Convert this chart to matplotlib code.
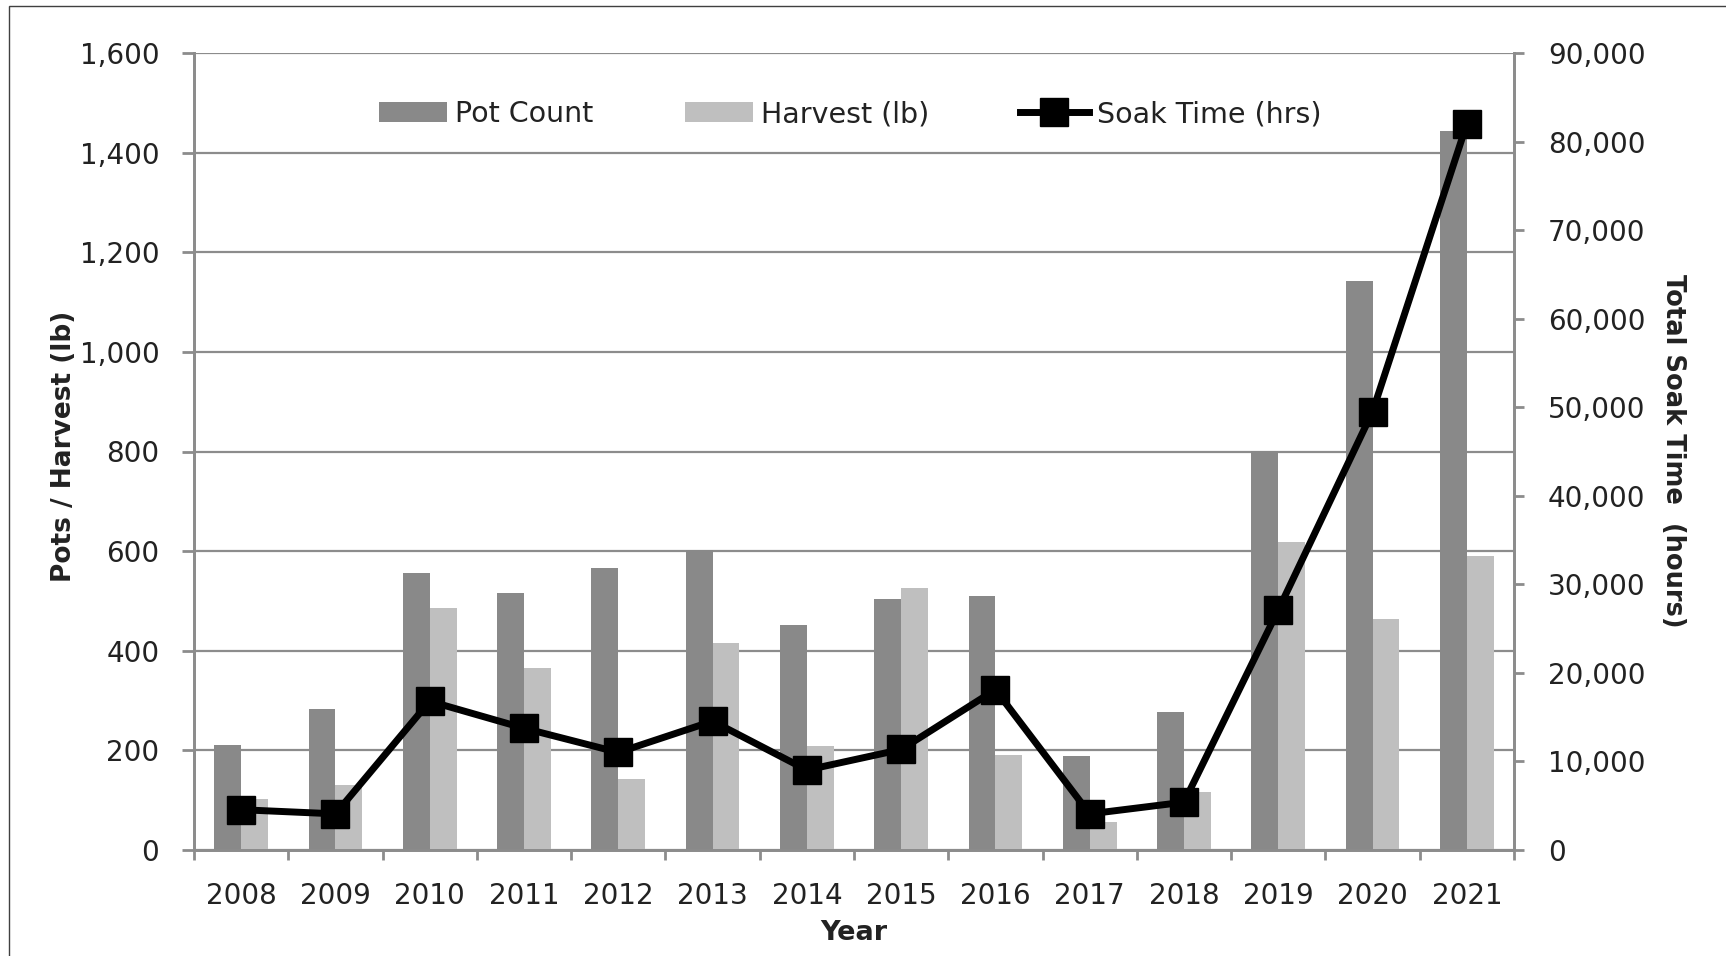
import numpy as np
import matplotlib
matplotlib.use('Agg')
import matplotlib.pyplot as plt
from matplotlib.ticker import FuncFormatter, MultipleLocator
from matplotlib.patches import Rectangle

years = ['2008', '2009', '2010', '2011', '2012', '2013', '2014',
         '2015', '2016', '2017', '2018', '2019', '2020', '2021']
pot_count = [210, 283, 557, 515, 566, 603, 451, 503, 510, 188, 277, 802, 1142, 1443]
harvest = [102, 130, 485, 365, 143, 416, 209, 526, 191, 56, 117, 619, 463, 590]
soak_time = [4550, 4080, 16800, 13750, 11020, 14550, 9030, 11350, 18100, 4080,
             5400, 27100, 49500, 82000]

GRID = '#8c8c8c'
TEXT = '#222222'


def comma(v, pos):
    return '{:,.0f}'.format(v)


def main():
    plt.rcParams['font.family'] = ['DejaVu Sans']

    fig = plt.figure(figsize=(17.26, 9.56), dpi=100)
    ax = fig.add_axes([194 / 1726, 106 / 956, 1320 / 1726, 797 / 956])
    ax2 = ax.twinx()

    x = np.arange(len(years))
    w = 0.285
    b1 = ax.bar(x - w / 2, pot_count, w, color='#898989', label='Pot Count')
    b2 = ax.bar(x + w / 2, harvest, w, color='#bfbfbf', label='Harvest (lb)')
    ln, = ax2.plot(x, soak_time, color='black', lw=5, marker='s', ms=20,
                   label='Soak Time (hrs)')

    ax.set_xlim(-0.5, len(years) - 0.5)
    ax.set_ylim(0, 1600)
    ax2.set_ylim(0, 90000)
    ax.yaxis.set_major_locator(MultipleLocator(200))
    ax2.yaxis.set_major_locator(MultipleLocator(10000))
    ax.yaxis.set_major_formatter(FuncFormatter(comma))
    ax2.yaxis.set_major_formatter(FuncFormatter(comma))

    # category boundaries get the tick marks, centres get the labels
    ax.set_xticks(np.arange(len(years) + 1) - 0.5)
    ax.set_xticklabels([])
    ax.set_xticks(x, minor=True)
    ax.set_xticklabels(years, minor=True)
    ax.tick_params(axis='x', which='major', length=7.5, width=2, color=GRID)
    ax.tick_params(axis='x', which='minor', length=0, pad=23, labelsize=20,
                   labelcolor=TEXT)
    ax.tick_params(axis='y', length=8.5, width=2, color=GRID, pad=16.5,
                   labelsize=20, labelcolor=TEXT)
    ax2.tick_params(axis='y', length=7.5, width=2, color=GRID, pad=17,
                    labelsize=20, labelcolor=TEXT)

    ax.set_axisbelow(True)
    ax.grid(axis='y', color=GRID, lw=1.6)
    for a in (ax, ax2):
        a.spines['top'].set_visible(False)
        for s in ('left', 'bottom', 'right'):
            a.spines[s].set_color(GRID)
            a.spines[s].set_linewidth(2)

    fig.text(854 / 1726, 1 - 933 / 956, 'Year', ha='center', va='center',
             fontsize=19.5, fontweight='bold', color=TEXT)
    fig.text(64 / 1726, 1 - 446 / 956, 'Pots / Harvest (lb)', rotation=90,
             ha='center', va='center', fontsize=19, fontweight='bold', color=TEXT)
    fig.text(1673 / 1726, 1 - 451 / 956, 'Total Soak Time  (hours)', rotation=270,
             ha='center', va='center', fontsize=18.5, fontweight='bold', color=TEXT)

    ax2.legend([b1, b2, ln], [b1.get_label(), b2.get_label(), ln.get_label()],
               loc='center', bbox_to_anchor=(0.497, 1 - 61 / 797), ncol=3,
               frameon=False, fontsize=20.5, handlelength=2.4, handleheight=0.7,
               handletextpad=0.28, columnspacing=3.2, numpoints=1,
               labelcolor=TEXT)

    # thin frame around the picture, cut off at right and bottom
    fig.patches.append(Rectangle((9 / 1726, -0.05), 1.1, 1.05 - 6 / 956,
                                 transform=fig.transFigure, fill=False,
                                 edgecolor='#404040', lw=1))

    fig.savefig('out.png', dpi=100)


if __name__ == "__main__":
    main()
